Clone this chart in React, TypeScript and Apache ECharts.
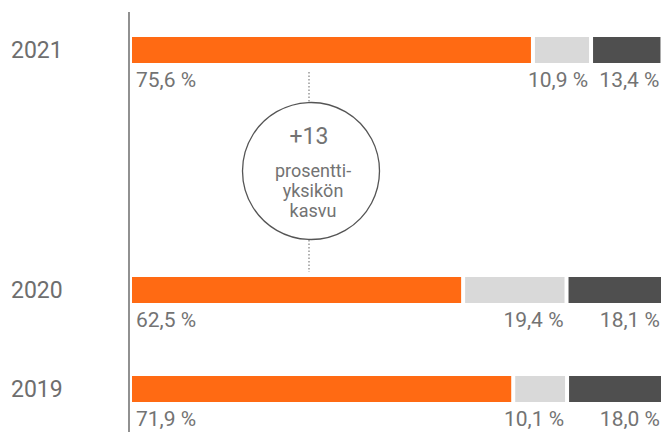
import React, { useEffect, useRef } from "react";
import * as echarts from "echarts";

const topYears = ["2021"];
const bottomYears = ["2020", "2019"];
const orangeTop = [75.6];
const lightTop = [10.9];
const darkTop = [13.4];
const orangeBottom = [62.5, 71.9];
const lightBottom = [19.4, 10.1];
const darkBottom = [18.1, 18.0];

const FONT = "Roboto";
const ORANGE = "#ff6a13";
const LIGHT = "#d9d9d9";
const DARK = "#4f4f4f";
const TEXT = "#737373";

const fmt = (p: any) => p.value.toFixed(1).replace(".", ",") + " %";

export default function App() {
  const ref = useRef<HTMLDivElement>(null);
  useEffect(() => {
    document.body.style.margin = "0";
    const chart = echarts.init(ref.current!, null, { renderer: "svg" });

    const leftLabel = {
      show: true,
      position: [6, "100%"],
      align: "left",
      verticalAlign: "top",
      offset: [0, 4],
      formatter: fmt,
      fontFamily: FONT,
      fontSize: 21,
      color: TEXT,
    };
    const rightLabel = {
      ...leftLabel,
      position: ["100%", "100%"],
      align: "right",
      offset: [-3, 4],
    };
    const mk = (name: string, data: number[], color: string, idx: number, label: any) => ({
      type: "bar",
      name,
      data,
      stack: "s" + idx,
      xAxisIndex: idx,
      yAxisIndex: idx,
      barWidth: 30,
      itemStyle: { color, borderColor: "#fff", borderWidth: 2 },
      label,
    });

    const yAxisBase = {
      type: "category",
      axisLine: { show: false },
      axisTick: { show: false },
      axisLabel: {
        align: "left",
        margin: 119,
        fontFamily: FONT,
        fontSize: 23,
        color: "#6e6e6e",
      },
    };
    const xAxisBase = { type: "value", min: 0, max: 100, show: false };

    chart.setOption({
      animation: false,
      grid: [
        { left: 130, right: 4, top: 12, height: 76, outerBoundsMode: "none" },
        { left: 130, right: 4, top: 240.5, height: 198, outerBoundsMode: "none" },
      ],
      xAxis: [
        { ...xAxisBase, gridIndex: 0 },
        { ...xAxisBase, gridIndex: 1 },
      ],
      yAxis: [
        { ...yAxisBase, gridIndex: 0, data: topYears },
        { ...yAxisBase, gridIndex: 1, data: bottomYears, inverse: true },
      ],
      series: [
        mk("a", orangeTop, ORANGE, 0, leftLabel),
        mk("b", lightTop, LIGHT, 0, rightLabel),
        mk("c", darkTop, DARK, 0, rightLabel),
        mk("a", orangeBottom, ORANGE, 1, leftLabel),
        mk("b", lightBottom, LIGHT, 1, rightLabel),
        mk("c", darkBottom, DARK, 1, rightLabel),
      ],
      graphic: [
        {
          type: "line",
          z: 100,
          shape: { x1: 129, y1: 12, x2: 129, y2: 432 },
          style: { stroke: "#555", lineWidth: 1.3 },
        },
        {
          type: "line",
          z: 100,
          shape: { x1: 309, y1: 72, x2: 309, y2: 102 },
          style: { stroke: "#999", lineWidth: 1.5, lineDash: [1.5, 2] },
        },
        {
          type: "line",
          z: 100,
          shape: { x1: 309, y1: 240, x2: 309, y2: 272 },
          style: { stroke: "#999", lineWidth: 1.5, lineDash: [1.5, 2] },
        },
        {
          type: "circle",
          z: 100,
          shape: { cx: 311, cy: 171, r: 68.5 },
          style: { fill: "#fff", stroke: "#555", lineWidth: 1.3 },
        },
        {
          type: "text",
          z: 101,
          x: 309,
          y: 136,
          style: {
            text: "+13",
            fontFamily: FONT,
            fontSize: 23,
            fill: TEXT,
            align: "center",
            verticalAlign: "middle",
          },
        },
        {
          type: "text",
          z: 101,
          x: 313,
          y: 190,
          style: {
            text: "prosentti-\nyksikön\nkasvu",
            fontFamily: FONT,
            fontSize: 18,
            lineHeight: 20,
            fill: TEXT,
            align: "center",
            verticalAlign: "middle",
          },
        },
      ],
    });
    return () => chart.dispose();
  }, []);
  return <div ref={ref} style={{ width: 667, height: 432 }} />;
}
